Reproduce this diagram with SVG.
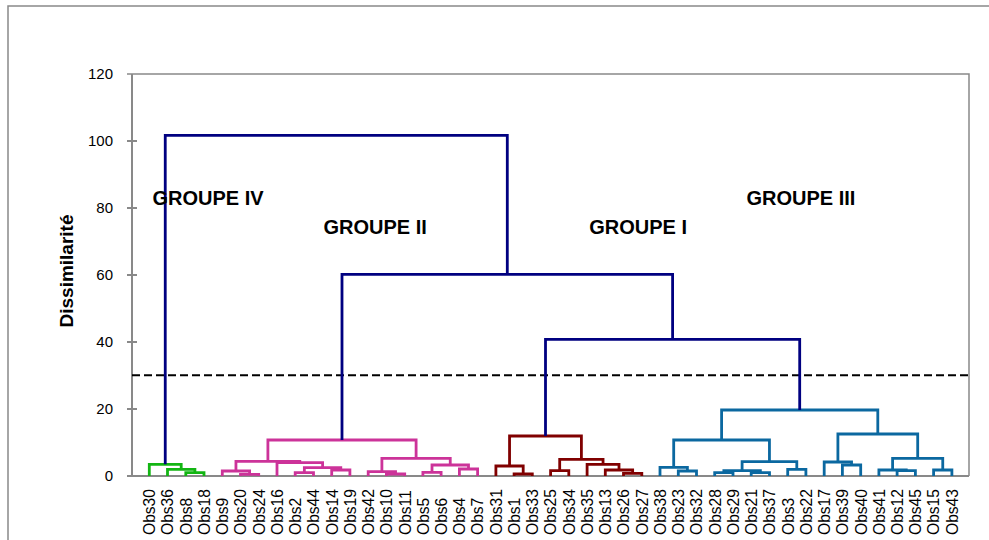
<svg xmlns="http://www.w3.org/2000/svg" width="989" height="540" viewBox="0 0 989 540">
<style>
.frame{fill:none;stroke:#898989;stroke-width:1.5}
.axis{fill:none;stroke:#898989;stroke-width:2}
.br{fill:none;stroke-width:2.8;stroke-linejoin:miter;stroke-linecap:butt}
.g4{stroke:#13b513}
.g2{stroke:#cc3399}
.g1{stroke:#800000}
.g3{stroke:#0b68a0}
.nv{stroke:#000080}
.tick{font-family:"Liberation Sans",Arial,sans-serif;font-size:15px;fill:#000;text-anchor:end}
.obs{font-family:"Liberation Sans",Arial,sans-serif;font-size:15.6px;fill:#000;text-anchor:start}
.grp{font-family:"Liberation Sans",Arial,sans-serif;font-size:20px;font-weight:bold;fill:#000}
.ttl{font-family:"Liberation Sans",Arial,sans-serif;font-size:19px;font-weight:bold;fill:#000;text-anchor:middle}
</style>
<rect x="0" y="0" width="989" height="540" fill="#fff"/>
<rect class="frame" x="8" y="6" width="1000" height="560"/>
<g id="axes">
<path class="frame" d="M127 74 H969 V476"/>
<path class="axis" d="M132 74 V476 H969"/>
<path class="axis" d="M127 141 H137 M127 208 H137 M127 275 H137 M127 342 H137 M127 409 H137 M127 476 H137"/>
<text class="tick" x="113" y="79.4">120</text>
<text class="tick" x="113" y="146.4">100</text>
<text class="tick" x="113" y="213.4">80</text>
<text class="tick" x="113" y="280.4">60</text>
<text class="tick" x="113" y="347.4">40</text>
<text class="tick" x="113" y="414.4">20</text>
<text class="tick" x="113" y="481.4">0</text>
<text class="ttl" transform="translate(73.3,271) rotate(-90)">Dissimilarité</text>
</g>
<path id="cut-line" d="M132 375.3 H969" fill="none" stroke="#000" stroke-width="2" stroke-dasharray="8 4"/>
<g id="groupe-IV">
<path class="br g4" d="M185.8 476 V472.7 H204 V476"/>
<path class="br g4" d="M167.5 476 V469.3 H194.9 V472.7"/>
<path class="br g4" d="M149.3 476 V464.3 H181.2 V469.3"/>
</g>
<g id="groupe-II">
<path class="br g2" d="M240.5 476 V474.3 H258.7 V476"/>
<path class="br g2" d="M222.3 476 V471 H249.6 V474.3"/>
<path class="br g2" d="M295.2 476 V472.7 H313.5 V476"/>
<path class="br g2" d="M331.7 476 V470 H349.9 V476"/>
<path class="br g2" d="M304.35 472.7 V467.7 H340.8 V470"/>
<path class="br g2" d="M277 476 V462.7 H322.6 V467.7"/>
<path class="br g2" d="M235.95 471 V461.3 H299.8 V462.7"/>
<path class="br g2" d="M386.4 476 V474 H404.7 V476"/>
<path class="br g2" d="M368.2 476 V471.7 H395.55 V474"/>
<path class="br g2" d="M422.9 476 V472.3 H441.1 V476"/>
<path class="br g2" d="M459.4 476 V469 H477.6 V476"/>
<path class="br g2" d="M432 472.3 V465 H468.5 V469"/>
<path class="br g2" d="M381.9 471.7 V458.3 H450.25 V465"/>
<path class="br g2" d="M267.9 461.3 V440 H416.1 V458.3"/>
</g>
<g id="groupe-I">
<path class="br g1" d="M514.1 476 V474 H532.3 V476"/>
<path class="br g1" d="M495.9 476 V466 H523.2 V474"/>
<path class="br g1" d="M550.6 476 V470.7 H568.8 V476"/>
<path class="br g1" d="M623.5 476 V473.3 H641.8 V476"/>
<path class="br g1" d="M605.3 476 V470 H632.65 V473.3"/>
<path class="br g1" d="M587.1 476 V464.3 H619 V470"/>
<path class="br g1" d="M559.7 470.7 V459.3 H603.05 V464.3"/>
<path class="br g1" d="M509.55 466 V436 H581.4 V459.3"/>
</g>
<g id="groupe-III">
<path class="br g3" d="M678.3 476 V471 H696.5 V476"/>
<path class="br g3" d="M660 476 V467.3 H687.4 V471"/>
<path class="br g3" d="M714.7 476 V472.7 H733 V476"/>
<path class="br g3" d="M751.2 476 V472.7 H769.5 V476"/>
<path class="br g3" d="M723.85 472.7 V470.7 H760.35 V472.7"/>
<path class="br g3" d="M787.7 476 V469.3 H805.9 V476"/>
<path class="br g3" d="M742.1 470.7 V461.7 H796.8 V469.3"/>
<path class="br g3" d="M673.7 467.3 V440 H769.45 V461.7"/>
<path class="br g3" d="M842.4 476 V465 H860.7 V476"/>
<path class="br g3" d="M824.2 476 V462 H851.55 V465"/>
<path class="br g3" d="M897.1 476 V470.7 H915.4 V476"/>
<path class="br g3" d="M878.9 476 V470 H906.25 V470.7"/>
<path class="br g3" d="M933.6 476 V470 H951.9 V476"/>
<path class="br g3" d="M892.6 470 V458.3 H942.75 V470"/>
<path class="br g3" d="M837.9 462 V434 H917.7 V458.3"/>
<path class="br g3" d="M721.6 440 V410 H877.8 V434"/>
</g>
<g id="connectors">
<path class="br nv" d="M165.25 464.3 V135.3 H507.3 V274.3"/>
<path class="br nv" d="M342 440 V274.3 H672.6 V339.3"/>
<path class="br nv" d="M545.5 436 V339.3 H799.7 V410"/>
</g>
<g id="labels">
<text class="grp" x="152.5" y="205">GROUPE IV</text>
<text class="grp" x="323.5" y="234.3">GROUPE II</text>
<text class="grp" x="589.2" y="234.3">GROUPE I</text>
<text class="grp" x="746.5" y="205">GROUPE III</text>
</g>
<g id="leaves">
<text class="obs" transform="translate(155.1,535) rotate(-90)">Obs30</text>
<text class="obs" transform="translate(173.3,535) rotate(-90)">Obs36</text>
<text class="obs" transform="translate(191.6,535) rotate(-90)">Obs8</text>
<text class="obs" transform="translate(209.8,535) rotate(-90)">Obs18</text>
<text class="obs" transform="translate(228.1,535) rotate(-90)">Obs9</text>
<text class="obs" transform="translate(246.3,535) rotate(-90)">Obs20</text>
<text class="obs" transform="translate(264.5,535) rotate(-90)">Obs24</text>
<text class="obs" transform="translate(282.8,535) rotate(-90)">Obs16</text>
<text class="obs" transform="translate(301,535) rotate(-90)">Obs2</text>
<text class="obs" transform="translate(319.3,535) rotate(-90)">Obs44</text>
<text class="obs" transform="translate(337.5,535) rotate(-90)">Obs14</text>
<text class="obs" transform="translate(355.7,535) rotate(-90)">Obs19</text>
<text class="obs" transform="translate(374,535) rotate(-90)">Obs42</text>
<text class="obs" transform="translate(392.2,535) rotate(-90)">Obs10</text>
<text class="obs" transform="translate(410.5,535) rotate(-90)">Obs11</text>
<text class="obs" transform="translate(428.7,535) rotate(-90)">Obs5</text>
<text class="obs" transform="translate(446.9,535) rotate(-90)">Obs6</text>
<text class="obs" transform="translate(465.2,535) rotate(-90)">Obs4</text>
<text class="obs" transform="translate(483.4,535) rotate(-90)">Obs7</text>
<text class="obs" transform="translate(501.7,535) rotate(-90)">Obs31</text>
<text class="obs" transform="translate(519.9,535) rotate(-90)">Obs1</text>
<text class="obs" transform="translate(538.1,535) rotate(-90)">Obs33</text>
<text class="obs" transform="translate(556.4,535) rotate(-90)">Obs25</text>
<text class="obs" transform="translate(574.6,535) rotate(-90)">Obs34</text>
<text class="obs" transform="translate(592.9,535) rotate(-90)">Obs35</text>
<text class="obs" transform="translate(611.1,535) rotate(-90)">Obs13</text>
<text class="obs" transform="translate(629.3,535) rotate(-90)">Obs26</text>
<text class="obs" transform="translate(647.6,535) rotate(-90)">Obs27</text>
<text class="obs" transform="translate(665.8,535) rotate(-90)">Obs38</text>
<text class="obs" transform="translate(684.1,535) rotate(-90)">Obs23</text>
<text class="obs" transform="translate(702.3,535) rotate(-90)">Obs32</text>
<text class="obs" transform="translate(720.5,535) rotate(-90)">Obs28</text>
<text class="obs" transform="translate(738.8,535) rotate(-90)">Obs29</text>
<text class="obs" transform="translate(757,535) rotate(-90)">Obs21</text>
<text class="obs" transform="translate(775.3,535) rotate(-90)">Obs37</text>
<text class="obs" transform="translate(793.5,535) rotate(-90)">Obs3</text>
<text class="obs" transform="translate(811.7,535) rotate(-90)">Obs22</text>
<text class="obs" transform="translate(830,535) rotate(-90)">Obs17</text>
<text class="obs" transform="translate(848.2,535) rotate(-90)">Obs39</text>
<text class="obs" transform="translate(866.5,535) rotate(-90)">Obs40</text>
<text class="obs" transform="translate(884.7,535) rotate(-90)">Obs41</text>
<text class="obs" transform="translate(902.9,535) rotate(-90)">Obs12</text>
<text class="obs" transform="translate(921.2,535) rotate(-90)">Obs45</text>
<text class="obs" transform="translate(939.4,535) rotate(-90)">Obs15</text>
<text class="obs" transform="translate(957.7,535) rotate(-90)">Obs43</text>
</g>
</svg>
